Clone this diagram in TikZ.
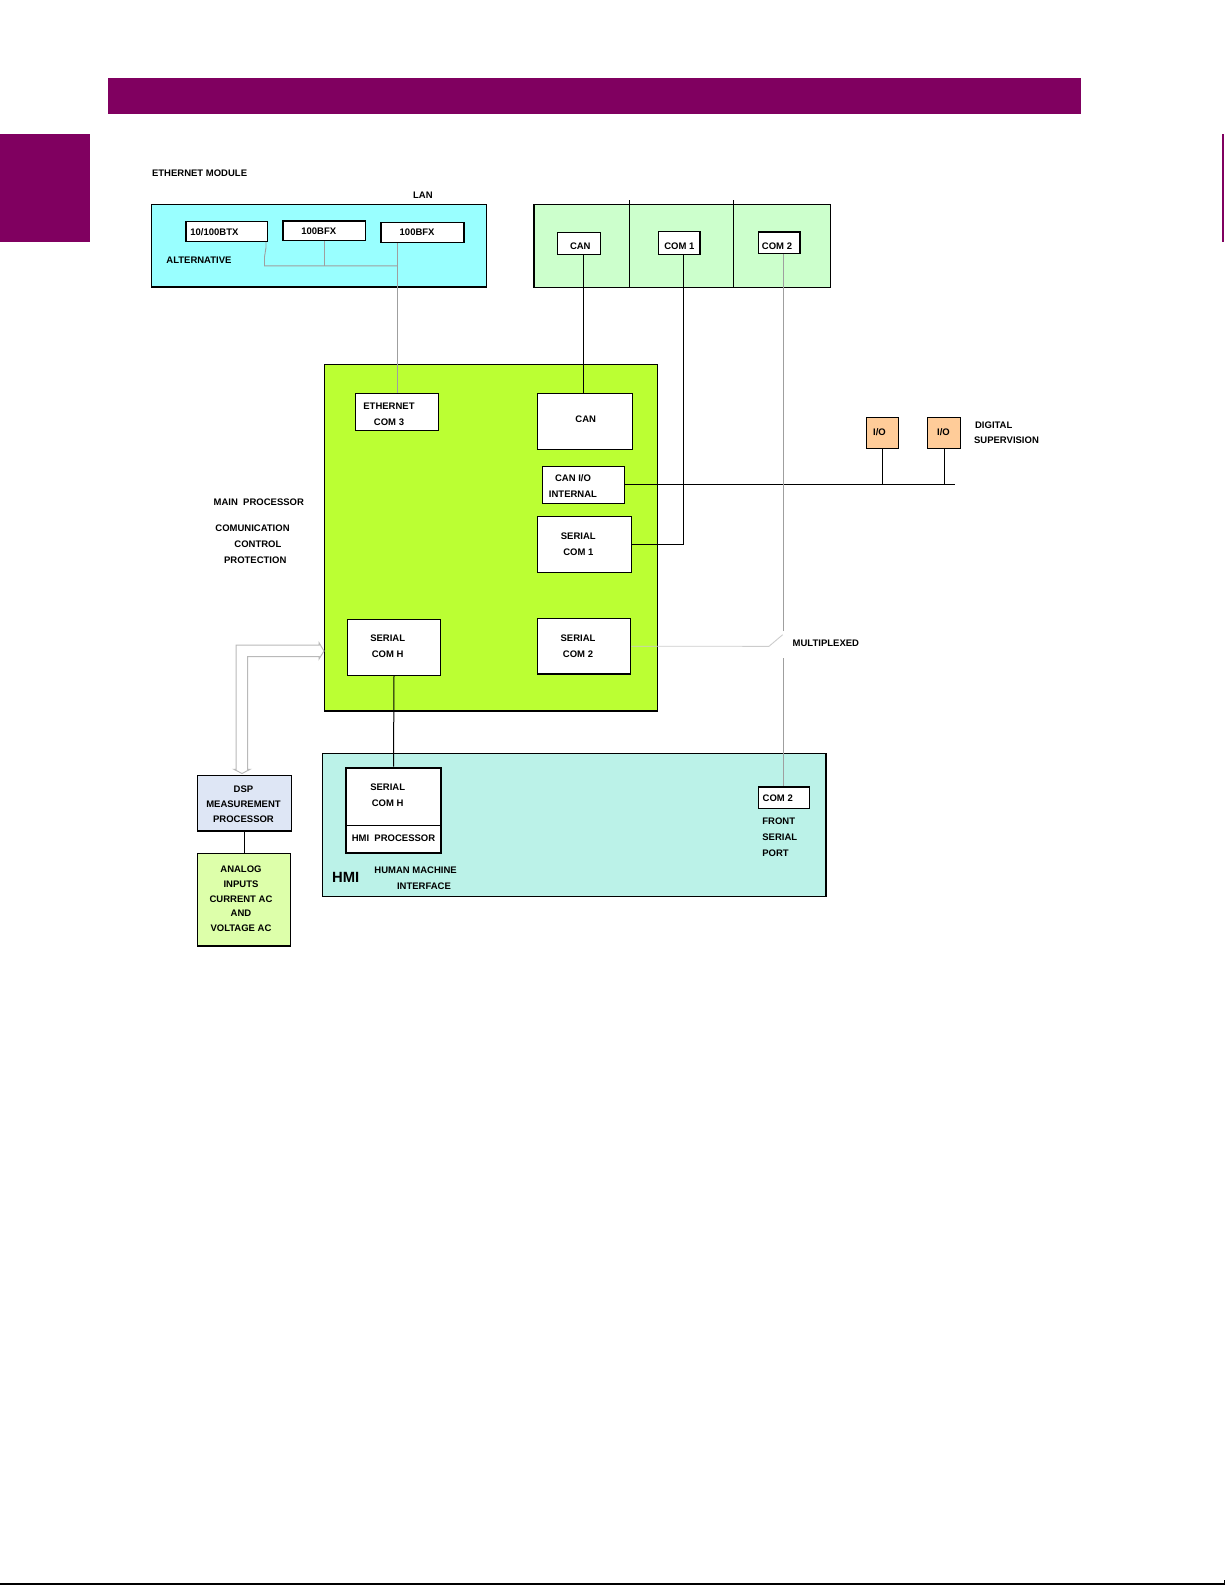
\documentclass[tikz,border=0pt]{standalone}
\usepackage{fontspec}
\setmainfont{Liberation Sans}
\usetikzlibrary{fit}
\definecolor{gepurple}{RGB}{128,0,96}
\definecolor{ethcyan}{RGB}{153,255,255}
\definecolor{portgreen}{RGB}{204,255,204}
\definecolor{cpugreen}{RGB}{187,255,51}
\definecolor{iopeach}{RGB}{255,204,153}
\definecolor{dspblue}{RGB}{222,230,245}
\definecolor{anagreen}{RGB}{221,255,170}
\definecolor{hmiaqua}{RGB}{187,242,232}
\newcommand{\lblfont}{\fontsize{4.75}{8}\selectfont\bfseries}
\begin{document}
\begin{tikzpicture}[x=0.5pt,y=-0.5pt,
  box/.style={draw,line width=0.55pt,inner sep=0pt,fill=white},
  area/.style={draw,line width=0.55pt,inner sep=0pt},
  txt/.style={inner sep=0pt,font=\lblfont},
  wire/.style={line width=0.5pt},
  gwire/.style={gray!75,line width=0.45pt},
  lwire/.style={gray!40,line width=0.45pt}]
  \useasboundingbox (0,0) rectangle (1225,1585);
  % page frame
  \fill[gepurple] (108,78) rectangle (1081,114);
  \fill[gepurple] (0,134) rectangle (90,242);
  \draw[gepurple,line width=0.8pt] (1223,134) -- (1223,242);
  \draw[line width=0.6pt] (0,1584) -- (1225,1584) -- (1225,1580);

  % ethernet module
  \node[txt,anchor=west] (lblethmod) at (151.7,173) {ETHERNET MODULE};
  \node[txt,anchor=west] (lbllan) at (412.7,195) {LAN};
  \node[area,fill=ethcyan,fit={(151.6,204.2) (486.1,287)}] (ethmod) {};
  \node[box,fit={(186,221.3) (267.8,241.6)}] (btx) {};
  \node[box,fit={(283,221) (365.9,240.5)}] (bfxa) {};
  \node[box,fit={(381,222.4) (464,242.6)}] (bfxb) {};
  \node[txt,anchor=west] (lblbtx) at (190,231.7) {10/100BTX};
  \node[txt,anchor=west] (lblbfxa) at (301,231.7) {100BFX};
  \node[txt,anchor=west] (lblbfxb) at (399.3,232) {100BFX};
  \node[txt,anchor=west] (lblalt) at (166,260) {ALTERNATIVE};

  % rear ports
  \node[area,fill=portgreen,fit={(534,204.3) (830.8,287.7)}] (ports) {};
  \coordinate (pdiva) at (629.3,200);
  \coordinate (pdivb) at (733.3,200);
  \draw[wire] (pdiva) -- (pdiva |- ports.south);
  \draw[wire] (pdivb) -- (pdivb |- ports.south);
  \node[box,fit={(557.3,232.3) (600.3,254.3)}] (canp) {};
  \node[box,fit={(658.7,231.7) (700,254.3)}] (com1p) {};
  \node[box,fit={(758.7,232) (800,253.7)}] (com2p) {};
  \node[txt] (lblcanp) at (580.3,246.5) {CAN};
  \node[txt] (lblcom1p) at (679.3,246.5) {COM 1};
  \node[txt] (lblcom2p) at (777,246.5) {COM 2};

  % main processor
  \node[area,fill=cpugreen,fit={(324.3,364.3) (657.3,711)}] (mainp) {};
  \node[box,fit={(355.3,393.3) (438.7,430.3)}] (ethc3) {};
  \node[txt,align=center] (lblethc3) at (389,414) {ETHERNET\\COM 3};
  \node[box,fit={(537.3,393.3) (632.7,449.3)}] (canm) {};
  \node[txt] (lblcanm) at (585.7,419) {CAN};
  \node[box,fit={(542.3,466.3) (624.3,503.3)}] (canio) {};
  \node[txt,align=center] (lblcanio) at (573,485.8) {CAN I/O\\INTERNAL};
  \node[box,fit={(537.3,516.3) (631.3,572.3)}] (ser1) {};
  \node[txt,align=center] (lblser1) at (578.3,544) {SERIAL\\COM 1};
  \node[box,fit={(347.3,619.3) (440.7,675.3)}] (serh) {};
  \node[txt,align=center] (lblserh) at (387.7,646) {SERIAL\\COM H};
  \node[box,fit={(537.7,618.5) (630.7,674)}] (ser2) {};
  \node[txt,align=center] (lblser2) at (578,646) {SERIAL\\COM 2};
  \node[txt,anchor=west] (lblmain) at (213.3,502.3) {MAIN\ \ PROCESSOR};
  \node[txt,anchor=west] (lblcomu) at (215,528.3) {COMUNICATION};
  \node[txt,anchor=west] (lblctrl) at (234,544.3) {CONTROL};
  \node[txt,anchor=west] (lblprot) at (223.7,560.7) {PROTECTION};

  % digital supervision
  \node[box,fill=iopeach,fit={(866.3,417.3) (898.7,448.3)}] (ioa) {};
  \node[box,fill=iopeach,fit={(927.3,417.3) (960.7,448.3)}] (iob) {};
  \node[txt,anchor=west] (lblioa) at (872.7,432) {I/O};
  \node[txt,anchor=west] (lbliob) at (936.7,432) {I/O};
  \node[txt,anchor=west] (lbldig) at (974.7,425.3) {DIGITAL};
  \node[txt,anchor=west] (lblsup) at (973.7,440) {SUPERVISION};

  % dsp and analog inputs
  \node[area,fill=dspblue,fit={(197.7,775.3) (291.7,831)}] (dsp) {};
  \node[txt,align=center,font=\fontsize{4.75}{7.6}\selectfont\bfseries] (lbldsp) at (243.5,804.3) {DSP\\MEASUREMENT\\PROCESSOR};
  \node[area,fill=anagreen,fit={(197.7,853.3) (290.3,946)}] (analog) {};
  \node[txt,align=center,font=\fontsize{4.75}{7.35}\selectfont\bfseries] (lblana) at (241,899) {ANALOG\\INPUTS\\CURRENT AC\\AND\\VOLTAGE AC};

  % hmi
  \node[area,fill=hmiaqua,fit={(322.7,753.3) (826,896.7)}] (hmi) {};
  \node[box,line width=1pt,fit={(346,767.7) (441,853.3)}] (hmiser) {};
  \coordinate (hmidiv) at (0,825);
  \draw[wire] (hmiser.west |- hmidiv) -- (hmiser.east |- hmidiv);
  \node[txt,align=center] (lblhmiser) at (387.7,795.5) {SERIAL\\COM H};
  \node[txt] (lblhmiproc) at (393.5,838.7) {HMI\ \ PROCESSOR};
  \node[txt,anchor=west,font=\fontsize{7.4}{9}\selectfont\bfseries] (lblhmi) at (331.7,877.7) {HMI};
  \node[txt,anchor=west] (lblhuman) at (374,870.3) {HUMAN MACHINE};
  \node[txt,anchor=west] (lblintf) at (396.7,886.7) {INTERFACE};
  \node[box,line width=0.8pt,fit={(758.3,786.7) (809.3,808.3)}] (com2f) {};
  \node[txt,anchor=west] (lblcom2f) at (762.3,798.7) {COM 2};
  \node[txt,anchor=west,align=left,font=\fontsize{4.75}{8.1}\selectfont\bfseries] (lblfront) at (762,837.2) {FRONT\\SERIAL\\PORT};
  \node[txt,anchor=west] (lblmux) at (792.3,643.7) {MULTIPLEXED};

  % connections
  \coordinate (swa) at (266,247.5);
  \coordinate (swb) at (264.5,257);
  \coordinate (ethbus) at (264.5,265.8);
  \draw[gwire] (btx.south -| swa) -- (swa) -- (swb) -- (ethbus) -- (ethbus -| ethc3.north);
  \draw[gwire] (bfxa.south) -- (bfxa.south |- ethbus);
  \draw[gwire] (ethc3.north) -- (ethc3.north |- bfxb.south);
  \coordinate (cancol) at (583.3,0);
  \draw[wire] (canp.south -| cancol) -- (canm.north -| cancol);
  \coordinate (cone) at (683.3,544.3);
  \draw[wire] (com1p.south -| cone) -- (cone) -- (ser1.east |- cone);
  \coordinate (busend) at (955,484.8);
  \draw[wire] (canio.east) -- (busend);
  \draw[wire] (ioa.south) -- (ioa.south |- busend);
  \draw[wire] (iob.south) -- (iob.south |- busend);
  \coordinate (muxa) at (783.5,630.7);
  \coordinate (muxb) at (783.5,658.3);
  \coordinate (muxc) at (769,646.3);
  \draw[gwire] (com2p.south -| muxa) -- (muxa);
  \draw[gwire] (muxb) -- (com2f.north -| muxb);
  \draw[lwire] (ser2.east) -- (muxc) -- ++(13.7,-11.6);
  \draw[wire] (serh.south) -- (hmiser.north);
  \draw[wire] (dsp.south) -- (dsp.south |- analog.north);
  \draw[gray!55,line width=0.5pt] (236,769.3) -- (236,645) -- (319,645) -- (319,642.7) -- (324,651)
    -- (319,659) -- (319,656.7) -- (247.7,656.7) -- (247.7,769.3) -- (250,769.3) -- (242,773.5)
    -- (234,769.3) -- cycle;
\end{tikzpicture}
\end{document}
